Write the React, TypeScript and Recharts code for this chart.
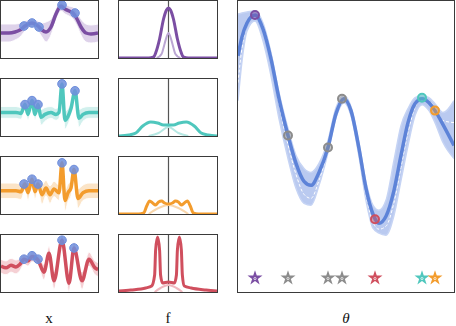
import React from "react";
import {
  ComposedChart,
  Line,
  Area,
  Scatter,
  XAxis,
  YAxis,
  ReferenceLine,
  Symbols,
} from "recharts";

const PURPLE = "#7b4ea3";
const TEAL = "#4fc7bd";
const ORANGE = "#f39c2d";
const RED = "#d04f5e";
const BLUE = "#5d83d8";
const GRAY = "#8c8c8c";
const DOT = "#6e8edc";
const FRAME = "#3a3a3a";

// signals (left column), x in panel units 0..97, amplitude 0..57
const sigX1 = [0, 8, 14, 19, 24, 31, 37, 41, 45, 50, 55, 60, 64, 68, 72, 76, 80, 85, 90, 97];
const sigMean1 = [25, 25, 26, 28, 32, 35, 32, 28, 26, 31, 44, 52, 49, 47, 45, 39, 31, 25, 24, 25];
const sigSpread1 = [9, 9, 8, 7, 5, 4, 5, 7, 10, 8, 6, 5, 5, 5, 6, 7, 8, 9, 9, 9];

const sigX2 = [0, 15, 20, 24, 27, 31, 34, 37, 40, 44, 50, 55, 58, 61, 64, 67, 70, 74, 78, 82, 88, 97];
const sigMean2 = [24, 24, 23, 32, 22, 36, 22, 32, 19, 22, 24, 22, 24, 53, 16, 20, 28, 46, 18, 22, 24, 24];
const sigSpread2 = [6, 6, 6, 5, 6, 5, 6, 5, 8, 7, 6, 6, 6, 5, 9, 8, 7, 5, 9, 7, 6, 6];

const sigX3 = [0, 15, 20, 24, 27, 31, 34, 37, 41, 45, 49, 53, 58, 61, 64, 67, 70, 73, 77, 82, 88, 97];
const sigMean3 = [24, 24, 23, 31, 22, 36, 23, 31, 20, 27, 20, 26, 22, 53, 14, 22, 27, 46, 16, 22, 24, 24];
const sigSpread3 = [8, 8, 8, 6, 8, 6, 8, 6, 10, 8, 9, 8, 8, 6, 11, 9, 8, 6, 10, 8, 8, 8];

const sigX4 = [0, 5, 10, 15, 19, 23, 27, 31, 37, 43, 48, 53, 61, 68, 73, 81, 88, 94, 97];
const sigMean4 = [24, 22, 25, 23, 26, 32, 30, 35, 31, 17, 39, 7, 54, 4, 45, 7, 32, 22, 20];
const sigSpread4 = [8, 8, 8, 8, 7, 6, 6, 6, 6, 9, 8, 10, 6, 10, 7, 10, 8, 8, 8];

const peakX1 = [23, 31, 38, 61, 74];
const peakY1 = [32, 35, 31, 53, 45];
const peakX2 = [24, 31, 37, 61, 74];
const peakY2 = [32, 36, 32, 53, 46];
const peakX3 = [23, 31, 37, 61, 73];
const peakY3 = [31, 36, 31, 53, 46];
const peakX4 = [23, 31, 37, 61, 73];
const peakY4 = [32, 36, 32, 54, 45];

// filters (middle column), x 0..99 with centre at 50
const fX1 = [0, 30, 35, 37, 41, 45, 48, 50, 52, 55, 59, 63, 65, 70, 99];
const fY1 = [0, 0, 1, 5, 19, 39, 48, 50, 48, 39, 19, 5, 1, 0, 0];
const fX1b = [38, 43, 46, 48, 50, 52, 54, 57, 62];
const fY1b = [0, 4, 14, 21, 25, 21, 14, 4, 0];

const fX2 = [0, 10, 17, 24, 32, 39, 45, 50, 55, 61, 68, 76, 83, 90, 99];
const fY2 = [0, 1, 3, 10, 14, 13, 11, 11, 11, 13, 14, 10, 3, 1, 0];
const fX2b = [30, 40, 50, 60, 70];
const fY2b = [0, 3, 9, 3, 0];

const fX3 = [0, 20, 25, 28, 31, 34, 37, 40, 43, 46, 50, 54, 57, 60, 63, 66, 69, 72, 75, 80, 99];
const fY3 = [0, 0, 1, 8, 13, 11, 9, 12, 13, 11, 10, 11, 13, 12, 9, 11, 13, 8, 1, 0, 0];
const fX3b = [30, 40, 50, 60, 70];
const fY3b = [0, 6, 9, 6, 0];

const fX4 = [0, 12, 27, 33, 36, 37, 39, 41, 42, 44, 50, 56, 58, 59, 61, 63, 64, 66, 73, 88, 99];
const fY4 = [1, 2, 4, 6, 17, 42, 55, 42, 17, 9, 10, 9, 17, 42, 55, 42, 17, 6, 4, 2, 1];
const fX4b = [36, 42, 50, 58, 64];
const fY4b = [0, 4, 7, 4, 0];

// objective over theta (right panel)
const theta = [0, 4, 9, 17, 25, 33, 41, 50, 58, 66, 73, 81, 90, 98, 106, 113, 121, 128, 135, 141, 148, 156, 163, 170, 177, 184, 191, 197, 205, 216];
const objMean = [237, 256, 270, 278, 264, 234, 194, 157, 129, 111, 107, 120, 145, 179, 194, 182, 144, 104, 78, 69, 76, 102, 137, 170, 189, 194, 190, 182, 168, 147];
const objHigh = [279, 280, 281, 282, 270, 240, 200, 164, 137, 124, 120, 129, 152, 185, 197, 186, 149, 110, 87, 82, 92, 132, 167, 184, 195, 197, 195, 189, 180, 192];
const objLow = [192, 232, 262, 272, 252, 217, 174, 134, 104, 89, 87, 107, 140, 175, 190, 177, 136, 92, 64, 59, 57, 77, 112, 147, 177, 188, 182, 170, 150, 134];
const objSample = [210, 245, 268, 279, 267, 238, 188, 148, 118, 98, 94, 112, 143, 181, 196, 184, 140, 97, 70, 63, 66, 90, 125, 160, 185, 194, 192, 185, 172, 170];

const pickTheta = [17, 50, 90, 104, 137, 184, 197];
const pickValue = [278, 157, 145, 194, 73, 195, 182];
const pickColor = [PURPLE, GRAY, GRAY, GRAY, RED, TEAL, ORANGE];
const starLevel = 14;

const zip = (xs: number[], ys: number[]) => xs.map((x, i) => ({ x, y: ys[i] }));
const noMargin = { top: 0, right: 0, bottom: 0, left: 0 };

const frame = (left: number, top: number, width: number, height: number): React.CSSProperties => ({
  position: "absolute",
  left,
  top,
  width,
  height,
  border: `1px solid ${FRAME}`,
  boxSizing: "border-box",
  overflow: "hidden",
  background: "#fff",
});

type SignalProps = {
  top: number;
  xs: number[];
  mean: number[];
  spread: number[];
  px: number[];
  py: number[];
  color: string;
  band: string;
};

const SignalPanel = ({ top, xs, mean, spread, px, py, color, band }: SignalProps) => {
  const rows = xs.map((x, i) => ({
    x,
    y: mean[i],
    range: [mean[i] - spread[i], mean[i] + spread[i]],
  }));
  return (
    <div style={frame(0, top, 99, 59)}>
      <ComposedChart width={97} height={57} data={rows} margin={noMargin}>
        <XAxis dataKey="x" type="number" domain={[0, 97]} hide />
        <YAxis type="number" domain={[0, 57]} hide />
        <Area
          dataKey="range"
          type="monotone"
          fill={band}
          fillOpacity={0.6}
          stroke="#ffffff"
          strokeOpacity={0.9}
          strokeWidth={1}
          isAnimationActive={false}
        />
        <Scatter
          data={zip(px, py)}
          dataKey="y"
          isAnimationActive={false}
          shape={(p: any) => (
            <circle cx={p.cx} cy={p.cy} r={4.3} fill={DOT} fillOpacity={0.85} stroke={DOT} strokeWidth={1} />
          )}
        />
        <Line dataKey="y" type="monotone" stroke={color} strokeWidth={3.5} dot={false} isAnimationActive={false} />
      </ComposedChart>
    </div>
  );
};

type FilterProps = {
  top: number;
  xs: number[];
  ys: number[];
  xs2: number[];
  ys2: number[];
  color: string;
  faint: string;
};

const FilterPanel = ({ top, xs, ys, xs2, ys2, color, faint }: FilterProps) => (
  <div style={frame(118, top, 100, 59)}>
    <ComposedChart width={98} height={57} margin={noMargin}>
      <XAxis dataKey="x" type="number" domain={[0, 99]} hide />
      <YAxis type="number" domain={[0, 57]} hide />
      <ReferenceLine x={50} stroke="#555" strokeWidth={1.2} />
      <Line data={zip(xs2, ys2)} dataKey="y" type="monotone" stroke={faint} strokeWidth={2} dot={false} isAnimationActive={false} />
      <Line data={zip(xs, ys)} dataKey="y" type="monotone" stroke={color} strokeWidth={3} dot={false} isAnimationActive={false} />
    </ComposedChart>
  </div>
);

const MainPanel = () => {
  const rows = theta.map((t, i) => ({
    x: t,
    y: objMean[i],
    band: [objLow[i], objHigh[i]],
    s: objSample[i],
  }));
  const picks = pickTheta.map((t, i) => ({ x: t, y: pickValue[i], color: pickColor[i] }));
  const stars = pickTheta.map((t, i) => ({ x: t, y: starLevel, color: pickColor[i] }));
  return (
    <div style={frame(237, 0, 218, 293)}>
      <ComposedChart width={216} height={291} data={rows} margin={noMargin}>
        <XAxis dataKey="x" type="number" domain={[0, 216]} hide />
        <YAxis type="number" domain={[0, 292]} hide />
        <Area
          dataKey="band"
          type="monotone"
          fill="#a9bdec"
          fillOpacity={0.8}
          stroke="#c6d4f4"
          strokeWidth={1.5}
          isAnimationActive={false}
        />
        <Line dataKey="s" type="monotone" stroke="#ffffff" strokeWidth={1} strokeDasharray="3 2" dot={false} isAnimationActive={false} />
        <Line dataKey="y" type="monotone" stroke={BLUE} strokeWidth={3.5} dot={false} isAnimationActive={false} />
        <Scatter
          data={picks}
          dataKey="y"
          isAnimationActive={false}
          shape={(p: any) => (
            <circle cx={p.cx} cy={p.cy} r={4} fill={p.payload.color} fillOpacity={0.45} stroke={p.payload.color} strokeWidth={2} />
          )}
        />
        <Scatter
          data={stars}
          dataKey="y"
          isAnimationActive={false}
          shape={(p: any) => (
            <g>
              <Symbols cx={p.cx} cy={p.cy} type="star" size={70} fill={p.payload.color} />
              <circle cx={p.cx} cy={p.cy + 0.5} r={1.1} fill="none" stroke="#fff" strokeWidth={0.7} />
            </g>
          )}
        />
      </ComposedChart>
    </div>
  );
};

const label = (left: number, text: string, italic: boolean) => (
  <div
    style={{
      position: "absolute",
      left: left - 20,
      top: 311,
      width: 40,
      height: 15,
      lineHeight: "15px",
      textAlign: "center",
      fontFamily: "'Liberation Serif', 'DejaVu Serif', serif",
      fontSize: 15,
      fontStyle: italic ? "italic" : "normal",
      color: "#111",
    }}
  >
    {text}
  </div>
);

export default function App() {
  return (
    <div style={{ position: "absolute", left: 0, top: 0, width: 456, height: 326, background: "#fff", overflow: "hidden" }}>
      <SignalPanel top={0} xs={sigX1} mean={sigMean1} spread={sigSpread1} px={peakX1} py={peakY1} color={PURPLE} band="#c8b4dc" />
      <SignalPanel top={78} xs={sigX2} mean={sigMean2} spread={sigSpread2} px={peakX2} py={peakY2} color={TEAL} band="#b2e6e1" />
      <SignalPanel top={156} xs={sigX3} mean={sigMean3} spread={sigSpread3} px={peakX3} py={peakY3} color={ORANGE} band="#f9d2a2" />
      <SignalPanel top={234} xs={sigX4} mean={sigMean4} spread={sigSpread4} px={peakX4} py={peakY4} color={RED} band="#eeb1b8" />

      <FilterPanel top={0} xs={fX1} ys={fY1} xs2={fX1b} ys2={fY1b} color={PURPLE} faint="#bba6d3" />
      <FilterPanel top={78} xs={fX2} ys={fY2} xs2={fX2b} ys2={fY2b} color={TEAL} faint="#b6e8e3" />
      <FilterPanel top={156} xs={fX3} ys={fY3} xs2={fX3b} ys2={fY3b} color={ORANGE} faint="#f9d6ab" />
      <FilterPanel top={234} xs={fX4} ys={fY4} xs2={fX4b} ys2={fY4b} color={RED} faint="#efb8bf" />

      <MainPanel />

      {label(49, "x", false)}
      {label(168, "f", false)}
      {label(346, "θ", true)}
    </div>
  );
}
